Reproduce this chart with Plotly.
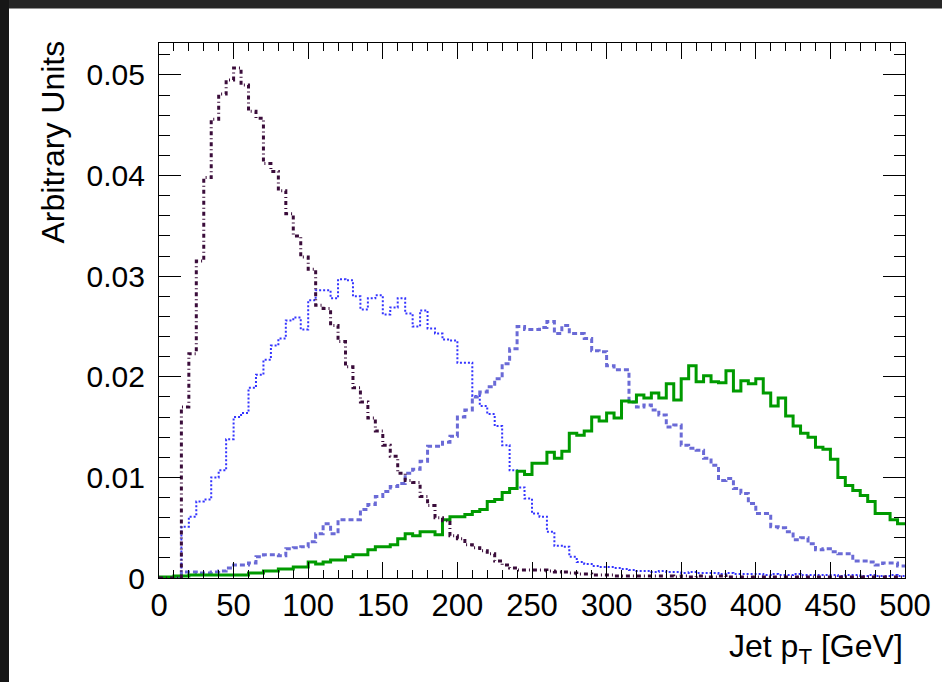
import plotly.graph_objects as go

# ---- binning (5 GeV bins from 0 to 500 GeV) ----
bin_width = 5
bin_low_edges = list(range(0, 500, bin_width))

# ---- series values (Arbitrary Units), one value per 5 GeV bin ----
sample_dashdot = [
    0, 0, 0, 0.0170, 0.0223, 0.0315, 0.0398, 0.0456, 0.0481, 0.0495,
    0.0507, 0.0490, 0.0464, 0.0457, 0.0412, 0.0404, 0.0385, 0.0362, 0.0340, 0.0319,
    0.0307, 0.0271, 0.0268, 0.0251, 0.0235, 0.0210, 0.0189, 0.0175, 0.0159, 0.0146,
    0.0132, 0.0121, 0.0104, 0.0097, 0.0095, 0.0081, 0.0072, 0.0060, 0.0057, 0.0042,
    0.0039, 0.0033, 0.0030, 0.0027, 0.0024, 0.0017, 0.0013, 0.0010, 0.0008, 0.0008,
    0.0008, 0.0008, 0.0007, 0.0006, 0.0006, 0.0005, 0.0004, 0.0004, 0.0003, 0.0003,
    0.0003, 0.0002, 0.0002, 0.0002, 0.0002, 0.0002, 0.0002, 0.0002, 0.0002, 0.0001,
    0.0002, 0.0001, 0.0002, 0.0001, 0.0001, 0.0002, 0.0001, 0.0001, 0.0001, 0.0001,
    0.0001, 0.0001, 0.0001, 0.0001, 0.0001, 0.0001, 0.0001, 0.0001, 0.0001, 0.0001,
    0.0001, 0.0001, 0.0001, 0.0001, 0.0001, 0.0001, 0.0001, 0.0001, 0.0001, 0.0001,
]

sample_dotted = [
    0, 0, 0, 0.0051, 0.0061, 0.0076, 0.0078, 0.0100, 0.0107, 0.0138,
    0.0160, 0.0164, 0.0189, 0.0202, 0.0217, 0.0231, 0.0238, 0.0256, 0.0259, 0.0247,
    0.0276, 0.0286, 0.0286, 0.0278, 0.0297, 0.0296, 0.0280, 0.0267, 0.0278, 0.0281,
    0.0262, 0.0269, 0.0278, 0.0263, 0.0250, 0.0266, 0.0248, 0.0243, 0.0237, 0.0236,
    0.0214, 0.0214, 0.0181, 0.0171, 0.0163, 0.0151, 0.0132, 0.0107, 0.0090, 0.0079,
    0.0064, 0.0061, 0.0046, 0.0032, 0.0031, 0.0021, 0.0016, 0.0014, 0.0012, 0.0011,
    0.0011, 0.0010, 0.0009, 0.0008, 0.0007, 0.0007, 0.0006, 0.0007, 0.0006, 0.0006,
    0.0005, 0.0006, 0.0005, 0.0005, 0.0005, 0.0004, 0.0005, 0.0004, 0.0004, 0.0004,
    0.0004, 0.0003, 0.0004, 0.0003, 0.0003, 0.0004, 0.0003, 0.0003, 0.0003, 0.0003,
    0.0003, 0.0002, 0.0003, 0.0003, 0.0002, 0.0003, 0.0002, 0.0002, 0.0003, 0.0002,
]

sample_dashed = [
    0, 0, 0, 0.0006, 0.0006, 0.0005, 0.0005, 0.0006, 0.0007, 0.0010,
    0.0013, 0.0013, 0.0015, 0.0021, 0.0023, 0.0023, 0.0022, 0.0029, 0.0030, 0.0031,
    0.0036, 0.0044, 0.0054, 0.0044, 0.0058, 0.0058, 0.0058, 0.0068, 0.0073, 0.0081,
    0.0086, 0.0091, 0.0094, 0.0104, 0.0108, 0.0116, 0.0131, 0.0131, 0.0135, 0.0141,
    0.0160, 0.0167, 0.0180, 0.0185, 0.0190, 0.0198, 0.0213, 0.0228, 0.0250, 0.0247,
    0.0247, 0.0249, 0.0255, 0.0243, 0.0251, 0.0243, 0.0243, 0.0238, 0.0226, 0.0225,
    0.0211, 0.0207, 0.0207, 0.0175, 0.0170, 0.0172, 0.0167, 0.0162, 0.0150, 0.0152,
    0.0132, 0.0129, 0.0127, 0.0119, 0.0112, 0.0097, 0.0099, 0.0089, 0.0084, 0.0074,
    0.0064, 0.0064, 0.0051, 0.0050, 0.0046, 0.0038, 0.0040, 0.0034, 0.0028, 0.0029,
    0.0026, 0.0024, 0.0024, 0.0017, 0.0017, 0.0016, 0.0013, 0.0015, 0.0015, 0.0012,
]

sample_solid = [
    0.0001, 0.0001, 0.0002, 0.0002, 0.0003, 0.0003, 0.0003, 0.0003, 0.0003, 0.0003,
    0.0003, 0.0003, 0.0005, 0.0005, 0.0007, 0.0007, 0.0009, 0.0009, 0.0011, 0.0011,
    0.0016, 0.0014, 0.0016, 0.0018, 0.0018, 0.0021, 0.0023, 0.0023, 0.0028, 0.0031,
    0.0031, 0.0033, 0.0039, 0.0044, 0.0042, 0.0046, 0.0046, 0.0043, 0.0058, 0.0061,
    0.0061, 0.0063, 0.0066, 0.0068, 0.0076, 0.0078, 0.0085, 0.0089, 0.0106, 0.0103,
    0.0114, 0.0114, 0.0125, 0.0119, 0.0126, 0.0144, 0.0142, 0.0146, 0.0160, 0.0156,
    0.0164, 0.0159, 0.0176, 0.0175, 0.0182, 0.0179, 0.0184, 0.0179, 0.0193, 0.0177,
    0.0198, 0.0211, 0.0195, 0.0201, 0.0195, 0.0194, 0.0206, 0.0186, 0.0196, 0.0193,
    0.0198, 0.0184, 0.0171, 0.0179, 0.0161, 0.0151, 0.0144, 0.0140, 0.0130, 0.0128,
    0.0118, 0.0100, 0.0092, 0.0087, 0.0082, 0.0076, 0.0064, 0.0064, 0.0058, 0.0054,
]

x_ticks = [0, 50, 100, 150, 200, 250, 300, 350, 400, 450, 500]
x_tick_labels = [str(v) for v in x_ticks]
y_ticks = [0, 0.01, 0.02, 0.03, 0.04, 0.05]
y_tick_labels = ["0", "0.01", "0.02", "0.03", "0.04", "0.05"]

x_title = "Jet p<sub>T</sub> [GeV]"
y_title = "Arbitrary Units"

FONT = "Liberation Sans, Arial, Helvetica, sans-serif"
W, H = 942, 682
ML, MR, MT, MB = 159, 37, 43, 104


def step_xy(values):
    xs = bin_low_edges + [bin_low_edges[-1] + bin_width]
    ys = list(values) + [values[-1]]
    return xs, ys


series = [
    (sample_dotted, "#3434ff", 2.0, "2px,2px"),
    (sample_dashed, "#6a6ad6", 3.0, "5px,3px"),
    (sample_solid, "#009a00", 3.0, "solid"),
    (sample_dashdot, "#3a0c3a", 3.0, "4px,3px,1px,3px"),
]

fig = go.Figure()
for vals, color, width, dash in series:
    xs, ys = step_xy(vals)
    fig.add_trace(go.Scatter(
        x=xs, y=ys, mode="lines", line_shape="hv",
        line=dict(color=color, width=width, dash=dash),
        showlegend=False, hoverinfo="skip", cliponaxis=True,
    ))

axis_common = dict(
    showline=True, linecolor="black", linewidth=1.2, mirror="allticks",
    ticks="inside", tickcolor="black", tickwidth=1.2,
    showgrid=False, zeroline=False,
)

fig.update_xaxes(
    range=[0, 500], tickvals=x_ticks, ticktext=x_tick_labels,
    ticklen=16, ticklabelstandoff=0,
    tickfont=dict(family=FONT, size=31, color="black"),
    minor=dict(ticks="inside", dtick=10, ticklen=8, tickcolor="black", tickwidth=1.2),
    **axis_common,
)
fig.update_yaxes(
    range=[0, 0.05318], tickvals=y_ticks, ticktext=y_tick_labels,
    ticklen=22, ticklabelstandoff=7,
    tickfont=dict(family=FONT, size=30, color="black"),
    minor=dict(ticks="inside", dtick=0.002, ticklen=11, tickcolor="black", tickwidth=1.2),
    **axis_common,
)

pw = W - ML - MR
ph = H - MT - MB

def px_x(p):
    return (p - ML) / pw

def px_y(p):
    return (H - MB - p) / ph

fig.update_layout(
    width=W, height=H,
    margin=dict(l=ML, r=MR, t=MT, b=MB, pad=0),
    paper_bgcolor="white", plot_bgcolor="white",
    annotations=[
        dict(text=y_title, xref="paper", yref="paper", x=px_x(52), y=px_y(38),
             xanchor="center", yanchor="top", textangle=-90, showarrow=False,
             font=dict(family=FONT, size=32, color="black")),
        dict(text=x_title, xref="paper", yref="paper", x=1.0, y=px_y(626),
             xanchor="right", yanchor="top", showarrow=False,
             font=dict(family=FONT, size=32, color="black")),
    ],
    shapes=[
        dict(type="rect", xref="paper", yref="paper", x0=px_x(0), x1=px_x(W),
             y0=px_y(8.5), y1=px_y(0), fillcolor="#262626", line=dict(width=0), layer="above"),
        dict(type="rect", xref="paper", yref="paper", x0=px_x(0), x1=px_x(9),
             y0=px_y(H), y1=px_y(0), fillcolor="#161616", line=dict(width=0), layer="above"),
    ],
)

fig.write_html("out.html")
